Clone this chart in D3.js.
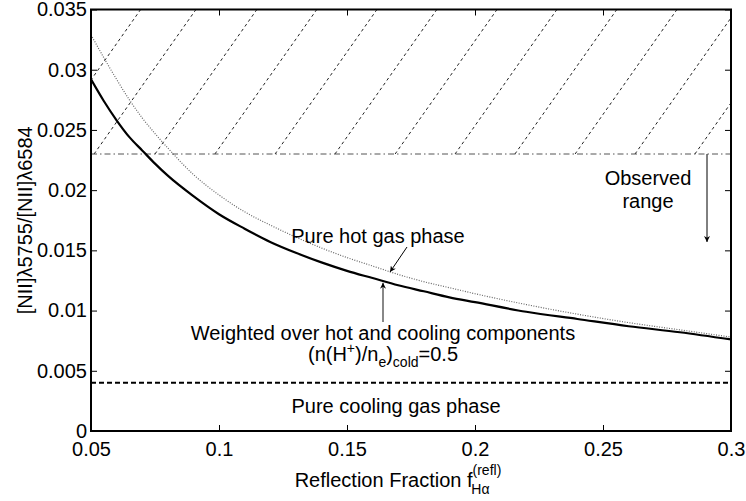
<!DOCTYPE html>
<html>
<head>
<meta charset="utf-8">
<script src="https://cdn.jsdelivr.net/npm/d3@7"></script>
<style>
  body { margin: 0; background: #fff; }
  svg text { font-family: "Liberation Sans", Arial, sans-serif; fill: #000; }
</style>
</head>
<body>
<script>
// reflection fraction samples
var fracX = [0.05, 0.055, 0.06, 0.065, 0.07, 0.075, 0.08, 0.09, 0.1, 0.11, 0.12, 0.13,
             0.14, 0.15, 0.16, 0.17, 0.18, 0.19, 0.2, 0.22, 0.24, 0.26, 0.28, 0.3];
// weighted over hot and cooling components (solid)
var weighted = [0.0292, 0.0274, 0.0258, 0.0244, 0.0233, 0.0222, 0.0212, 0.0195, 0.0180, 0.0168, 0.0157, 0.0148,
                0.0140, 0.0133, 0.0127, 0.0121, 0.0116, 0.0111, 0.0107, 0.0099, 0.0093, 0.0087, 0.0082, 0.0076];
// pure hot gas phase (dotted)
var pureHot = [0.0329, 0.0310, 0.0292, 0.0275, 0.0260, 0.0247, 0.0235, 0.0213, 0.0196, 0.0182, 0.0171, 0.0161,
               0.0152, 0.0144, 0.0137, 0.0130, 0.0124, 0.0119, 0.0114, 0.0105, 0.0097, 0.0090, 0.0084, 0.0078];
// constant levels
var pureCooling = 0.004;
var observedMin = 0.023;
// hatch lines of the observed range (x where they leave the 0.023 line)
var hatchStart = [0.0296, 0.0512, 0.075, 0.0984, 0.1219, 0.1453, 0.1688, 0.1922, 0.2156, 0.2391, 0.2625, 0.2859];
var hatchRun = 0.0398;

var xTicks = [0.05, 0.1, 0.15, 0.2, 0.25, 0.3];
var xLabels = ["0.05", "0.1", "0.15", "0.2", "0.25", "0.3"];
var yTicks = [0, 0.005, 0.01, 0.015, 0.02, 0.025, 0.03, 0.035];
var yLabels = ["0", "0.005", "0.01", "0.015", "0.02", "0.025", "0.03", "0.035"];

var fullwidth = 746, fullheight = 501;
var pLeft = 91, pRight = 731, pTop = 9.5, pBottom = 431;

var svg = d3.select("body").append("svg")
  .attr("width", fullwidth)
  .attr("height", fullheight);

var xscale = d3.scaleLinear().domain([0.05, 0.3]).range([pLeft, pRight]);
var yscale = d3.scaleLinear().domain([0, 0.035]).range([pBottom, pTop]);

// clip + arrow marker
var defs = svg.append("defs");
defs.append("clipPath").attr("id", "plotclip")
  .append("rect").attr("x", pLeft).attr("y", pTop)
  .attr("width", pRight - pLeft).attr("height", pBottom - pTop);
defs.append("marker")
  .attr("id", "head")
  .attr("viewBox", "0 0 10 10")
  .attr("refX", 10).attr("refY", 5)
  .attr("markerWidth", 9).attr("markerHeight", 6)
  .attr("markerUnits", "userSpaceOnUse")
  .attr("orient", "auto")
  .append("path").attr("d", "M0,0 L10,5 L0,10 L3,5 Z").attr("fill", "#000");

var plot = svg.append("g").attr("clip-path", "url(#plotclip)");

// hatching above the observed limit
plot.selectAll(".hatch")
  .data(hatchStart)
  .enter().append("line")
  .attr("class", "hatch")
  .attr("x1", function(d) { return xscale(d); })
  .attr("y1", yscale(observedMin))
  .attr("x2", function(d) { return xscale(d + hatchRun); })
  .attr("y2", yscale(0.035))
  .attr("stroke", "#222")
  .attr("stroke-width", 1)
  .attr("stroke-dasharray", "3,3");

// observed lower limit (dash-dot)
plot.append("line")
  .attr("x1", xscale(0.05)).attr("x2", xscale(0.3))
  .attr("y1", yscale(observedMin)).attr("y2", yscale(observedMin))
  .attr("stroke", "#555")
  .attr("stroke-width", 1)
  .attr("stroke-dasharray", "6,3,1.5,3");

// pure cooling (dashed)
plot.append("line")
  .attr("x1", xscale(0.05)).attr("x2", xscale(0.3))
  .attr("y1", yscale(pureCooling)).attr("y2", yscale(pureCooling))
  .attr("stroke", "#000")
  .attr("stroke-width", 2)
  .attr("stroke-dasharray", "5,3");

var line = d3.line()
  .x(function(d) { return xscale(d[0]); })
  .y(function(d) { return yscale(d[1]); })
  .curve(d3.curveMonotoneX);

// pure hot (dotted)
plot.append("path")
  .datum(fracX.map(function(x, i) { return [x, pureHot[i]]; }))
  .attr("d", line)
  .attr("fill", "none")
  .attr("stroke", "#666")
  .attr("stroke-width", 1.2)
  .attr("stroke-dasharray", "1,1.5");

// weighted (solid)
plot.append("path")
  .datum(fracX.map(function(x, i) { return [x, weighted[i]]; }))
  .attr("d", line)
  .attr("fill", "none")
  .attr("stroke", "#000")
  .attr("stroke-width", 2.2);

// axes box with inward ticks on all sides
function tickFmt(labels, ticks) {
  return function(d) { return labels[ticks.indexOf(d)]; };
}
svg.append("g")
  .attr("transform", "translate(0," + pBottom + ")")
  .call(d3.axisBottom(xscale).tickValues(xTicks).tickSizeInner(-6).tickSizeOuter(0)
        .tickPadding(11).tickFormat(tickFmt(xLabels, xTicks)));
svg.append("g")
  .attr("transform", "translate(0," + pTop + ")")
  .call(d3.axisTop(xscale).tickValues(xTicks).tickSizeInner(-6).tickSizeOuter(0).tickFormat(""));
svg.append("g")
  .attr("transform", "translate(" + pLeft + ",0)")
  .call(d3.axisLeft(yscale).tickValues(yTicks).tickSizeInner(-6).tickSizeOuter(0)
        .tickPadding(4).tickFormat(tickFmt(yLabels, yTicks)));
svg.append("g")
  .attr("transform", "translate(" + pRight + ",0)")
  .call(d3.axisRight(yscale).tickValues(yTicks).tickSizeInner(-6).tickSizeOuter(0).tickFormat(""));

svg.selectAll(".domain").remove();
svg.selectAll(".tick line").attr("stroke", "#000").attr("stroke-width", 1);
svg.selectAll(".tick text").style("font-size", "20px").attr("fill", "#000");

svg.append("rect")
  .attr("x", pLeft).attr("y", pTop)
  .attr("width", pRight - pLeft).attr("height", pBottom - pTop)
  .attr("fill", "none").attr("stroke", "#000").attr("stroke-width", 2);

// axis labels
var xlab = svg.append("text")
  .attr("x", 398).attr("y", 487)
  .style("font-size", "20px")
  .attr("text-anchor", "middle");
xlab.append("tspan").text("Reflection Fraction f");
xlab.append("tspan").attr("dy", -12).style("font-size", "14px").text("(refl)");
xlab.append("tspan").attr("dx", -30).attr("dy", 19).style("font-size", "14px").text("Hα");

svg.append("text")
  .attr("transform", "translate(32," + ((pTop + pBottom) / 2) + ") rotate(-90)")
  .attr("text-anchor", "middle")
  .style("font-size", "20px")
  .text("[NII]λ5755/[NII]λ6584");

// annotations
svg.append("text").attr("x", 648).attr("y", 185).attr("text-anchor", "middle")
  .style("font-size", "20px").text("Observed");
svg.append("text").attr("x", 648).attr("y", 208).attr("text-anchor", "middle")
  .style("font-size", "20px").text("range");
svg.append("line")
  .attr("x1", 707).attr("y1", yscale(observedMin))
  .attr("x2", 707).attr("y2", 242)
  .attr("stroke", "#000").attr("stroke-width", 1)
  .attr("marker-end", "url(#head)");

svg.append("text").attr("x", 378).attr("y", 243).attr("text-anchor", "middle")
  .style("font-size", "20px").text("Pure hot gas phase");
svg.append("line")
  .attr("x1", 407).attr("y1", 247)
  .attr("x2", xscale(0.1668)).attr("y2", yscale(0.0132))
  .attr("stroke", "#000").attr("stroke-width", 1)
  .attr("marker-end", "url(#head)");

svg.append("text").attr("x", 383).attr("y", 340).attr("text-anchor", "middle")
  .style("font-size", "20px").text("Weighted over hot and cooling components");
var wt = svg.append("text").attr("x", 383).attr("y", 361).attr("text-anchor", "middle")
  .style("font-size", "20px");
wt.append("tspan").text("(n(H");
wt.append("tspan").attr("dy", -8).style("font-size", "14px").text("+");
wt.append("tspan").attr("dy", 8).text(")/n");
wt.append("tspan").attr("dy", 6).style("font-size", "14px").text("e");
wt.append("tspan").attr("dy", -6).text(")");
wt.append("tspan").attr("dy", 6).style("font-size", "14px").text("cold");
wt.append("tspan").attr("dy", -6).text("=0.5");
svg.append("line")
  .attr("x1", 383).attr("y1", 322)
  .attr("x2", 383).attr("y2", yscale(0.0124) + 1)
  .attr("stroke", "#888").attr("stroke-width", 2)
  .attr("marker-end", "url(#head)");

svg.append("text").attr("x", 396).attr("y", 413).attr("text-anchor", "middle")
  .style("font-size", "20px").text("Pure cooling gas phase");
</script>
</body>
</html>
